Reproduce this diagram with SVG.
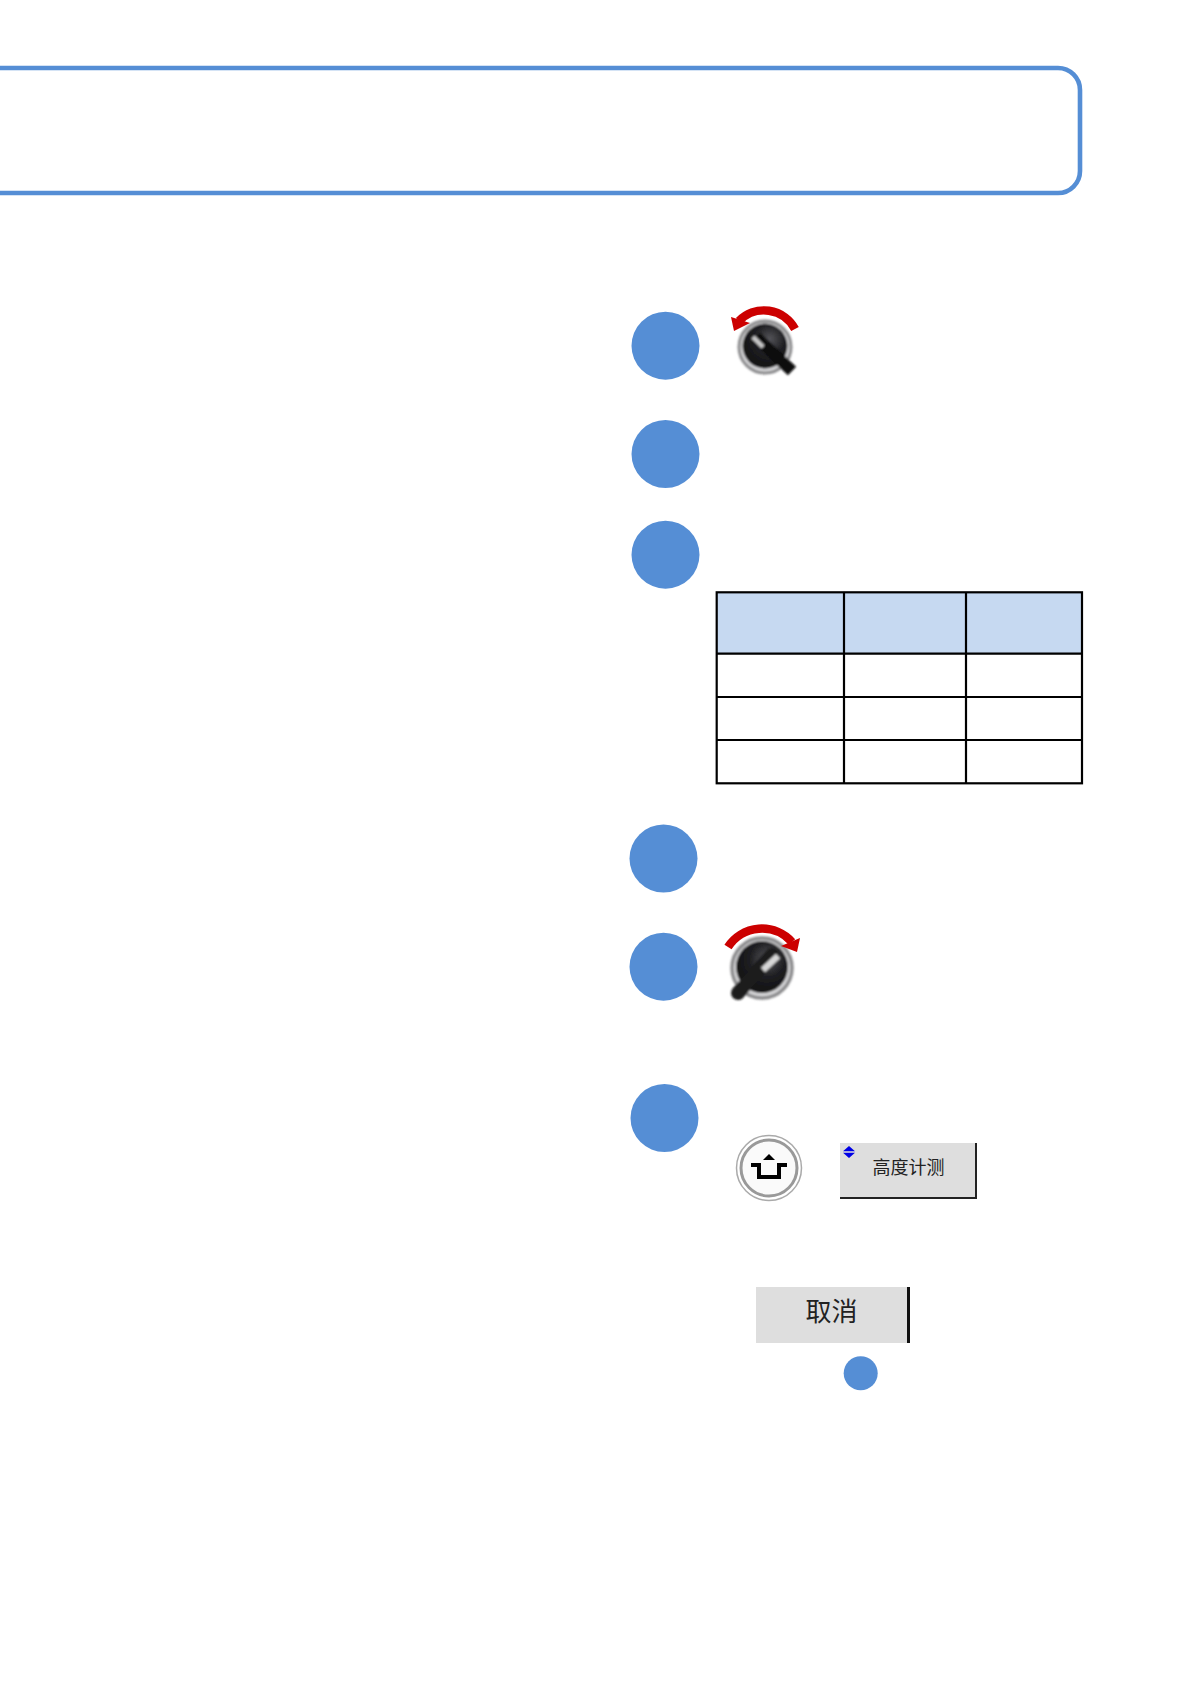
<svg xmlns="http://www.w3.org/2000/svg" width="1190" height="1684" viewBox="0 0 1190 1684">
<style>
.step{fill:#558ed5}
.cell{fill:none;stroke:#000;stroke-width:2.2}
.arc{fill:none;stroke:#cc0000;stroke-width:8.5}
.head{fill:#cc0000}
.cjk{font-family:"Noto Sans CJK SC","Liberation Sans",sans-serif;fill:#222;text-anchor:middle}
</style>
<defs>
<radialGradient id="dial" cx="0.6" cy="0.35" r="0.75"><stop offset="0" stop-color="#55555a"/><stop offset="0.45" stop-color="#1f1f22"/><stop offset="1" stop-color="#0c0c0e"/></radialGradient>
<filter id="soft" x="-10%" y="-10%" width="120%" height="120%"><feGaussianBlur stdDeviation="0.9"/></filter>
</defs>
<rect width="1190" height="1684" fill="#fff"/>
<g id="header"><path d="M-10 68H1058a22 22 0 0 1 22 22V171a22 22 0 0 1-22 22H-10" fill="none" stroke="#558ed5" stroke-width="4.6"/></g>
<g id="step-1"><circle class="step" cx="665.5" cy="345.7" r="34"/></g>
<g id="step-2"><circle class="step" cx="665.5" cy="454" r="34"/></g>
<g id="step-3"><circle class="step" cx="665.5" cy="554.7" r="34"/></g>
<g id="step-4"><circle class="step" cx="663.5" cy="858.5" r="34"/></g>
<g id="step-5"><circle class="step" cx="663.5" cy="966.7" r="34"/></g>
<g id="step-6"><circle class="step" cx="664.5" cy="1118" r="34"/></g>
<g id="step-7"><circle class="step" cx="860.7" cy="1373.3" r="17"/></g>
<g id="knob-left">
<g filter="url(#soft)">
<circle cx="765" cy="347" r="26" fill="#d8d8da" stroke="#8a8a8c" stroke-width="3"/>
<circle cx="765" cy="346" r="22.5" fill="url(#dial)"/>
<path d="M756 337L792 371" stroke="#0a0a0a" stroke-width="12"/>
<path d="M753 337L763 347" stroke="#c8c8c8" stroke-width="4.5"/>
</g>
<path class="arc" d="M795 329A35 35 0 0 0 739 321"/>
<path class="head" d="M731 317L734 331L750 323Z"/>
</g>
<g id="table">
<rect x="716.7" y="592.3" width="365.3" height="61.4" fill="#c6d9f1"/>
<rect class="cell" x="716.7" y="592.3" width="365.3" height="191"/>
<path class="cell" d="M844 592.3V783.3M966 592.3V783.3M716.7 653.7H1082M716.7 697H1082M716.7 740H1082"/>
</g>
<g id="knob-right">
<g filter="url(#soft)">
<circle cx="762" cy="968" r="30" fill="#d8d8da" stroke="#8a8a8c" stroke-width="3.5"/>
<circle cx="762" cy="967" r="26" fill="url(#dial)"/>
<path d="M738 993L772 955" stroke="#1a1a1a" stroke-width="14" stroke-linecap="round"/>
<path d="M763 970L778 956" stroke="#d8d8d8" stroke-width="6"/>
</g>
<path class="arc" d="M728 947A40.5 40.5 0 0 1 792 942"/>
<path class="head" d="M800 938L797 952L781 946Z"/>
</g>
<g id="home-button">
<circle cx="769" cy="1168" r="32.5" fill="#fff" stroke="#aaa" stroke-width="1.5"/>
<circle cx="769" cy="1168" r="28" fill="#fafafa" stroke="#999" stroke-width="3"/>
<path d="M751 1165H759V1177H779V1165H787" fill="none" stroke="#000" stroke-width="4"/>
<path d="M763 1160L769 1154L775 1160Z" fill="#000"/>
</g>
<g id="height-button">
<rect x="840" y="1143" width="136" height="55" fill="#dedede"/>
<path d="M976 1143V1198H840" fill="none" stroke="#222" stroke-width="2"/>
<path d="M849 1146L855 1151.2H843ZM849 1158L855 1152.8H843Z" fill="#0000e6"/>
<text class="cjk" x="908.5" y="1174" font-size="18">高度计测</text>
</g>
<g id="cancel-button">
<rect x="756" y="1287" width="154" height="56" fill="#dedede"/>
<rect x="907" y="1287" width="3" height="56" fill="#111"/>
<text class="cjk" x="831.5" y="1321" font-size="26">取消</text>
</g>
<g id="connectors"/>
</svg>
